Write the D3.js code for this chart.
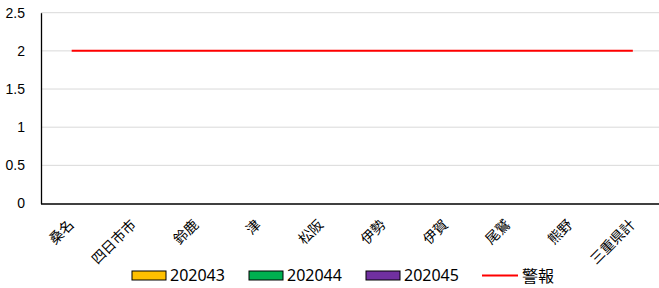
<!DOCTYPE html>
<html>
<head>
<meta charset="utf-8">
<script src="https://cdn.jsdelivr.net/npm/d3@7"></script>
<style>
  body { margin: 0; background: #fff; }
  svg { display: block; font-family: "Noto Sans", "Noto Sans CJK JP", sans-serif; }
</style>
</head>
<body>
<svg width="659" height="288"></svg>
<script>
// 地域
var categories = ["桑名", "四日市市", "鈴鹿", "津", "松阪", "伊勢", "伊賀", "尾鷲", "熊野", "三重県計"];
// 週ごとの値 (全部ゼロ)
var s202043 = [0, 0, 0, 0, 0, 0, 0, 0, 0, 0];
var s202044 = [0, 0, 0, 0, 0, 0, 0, 0, 0, 0];
var s202045 = [0, 0, 0, 0, 0, 0, 0, 0, 0, 0];
// 警報レベル
var alarm = [2, 2, 2, 2, 2, 2, 2, 2, 2, 2];
var yTicks = [0, 0.5, 1, 1.5, 2, 2.5];

var series = [
  { name: "202043", values: s202043, color: "#ffc000" },
  { name: "202044", values: s202044, color: "#00b050" },
  { name: "202045", values: s202045, color: "#7030a0" }
];

var svg = d3.select("svg");

var x = d3.scaleBand().domain(categories).range([40.5, 664]);
var y = d3.scaleLinear().domain([0, 2.5]).range([203.5, 12.7]);
var xInner = d3.scaleBand().domain(series.map(d => d.name)).range([0, x.bandwidth()]).paddingInner(0).paddingOuter(0.6);

// gridlines
svg.append("g")
  .selectAll("line")
  .data(yTicks.filter(d => d > 0))
  .enter()
  .append("line")
  .attr("x1", 41)
  .attr("x2", 659)
  .attr("y1", d => y(d))
  .attr("y2", d => y(d))
  .style("stroke", "#d9d9d9")
  .style("stroke-width", 1);

// y axis
var yAxis = svg.append("g")
  .attr("transform", "translate(41,0)")
  .call(d3.axisLeft(y).tickValues(yTicks).tickSize(0).tickPadding(16).tickFormat(d3.format("")));
yAxis.select(".domain").style("stroke", "#000").style("stroke-width", 1.3);
yAxis.selectAll("text").style("font-size", "14px").style("fill", "#000");

// bars
series.forEach(function (s) {
  svg.append("g")
    .selectAll("rect")
    .data(s.values)
    .enter()
    .append("rect")
    .attr("x", (d, i) => x(categories[i]) + xInner(s.name))
    .attr("width", xInner.bandwidth())
    .attr("y", d => y(d))
    .attr("height", d => y(0) - y(d))
    .style("fill", s.color)
    .style("stroke", "#000")
    .style("stroke-width", d => d > 0 ? 1 : 0);
});

// x axis
var xAxis = svg.append("g")
  .attr("transform", "translate(0," + y(0) + ")")
  .call(d3.axisBottom(x).tickSize(0).tickPadding(0));
xAxis.select(".domain").style("stroke", "#000").style("stroke-width", 1.5);
xAxis.selectAll("text")
  .style("font-family", "'Noto Sans CJK JP', sans-serif")
  .style("font-size", "14px")
  .style("fill", "#000")
  .attr("text-anchor", "end")
  .attr("dy", null)
  .attr("y", 0)
  .attr("transform", "translate(3,22) rotate(-45)");

// 警報 line
var line = d3.line()
  .x((d, i) => x(categories[i]) + x.bandwidth() / 2)
  .y(d => y(d));
svg.append("path")
  .datum(alarm)
  .attr("d", line)
  .style("fill", "none")
  .style("stroke", "#ff0000")
  .style("stroke-width", 2);

// legend
var legendPos = [132, 249, 366];
var legend = svg.append("g");
series.forEach(function (s, i) {
  var g = legend.append("g").attr("transform", "translate(" + legendPos[i] + ",271)");
  g.append("rect")
    .attr("width", 34)
    .attr("height", 9)
    .style("fill", s.color)
    .style("stroke", "#000")
    .style("stroke-width", 1);
  g.append("text")
    .attr("x", 38)
    .attr("y", 10)
    .style("font-size", "16px")
    .text(s.name);
});
var lg = legend.append("g").attr("transform", "translate(482,275.5)");
lg.append("line")
  .attr("x1", 0)
  .attr("x2", 36)
  .style("stroke", "#ff0000")
  .style("stroke-width", 2);
lg.append("text")
  .attr("x", 40)
  .attr("y", 6)
  .style("font-family", "'Noto Sans CJK JP', sans-serif")
  .style("font-size", "16px")
  .text("警報");
</script>
</body>
</html>
